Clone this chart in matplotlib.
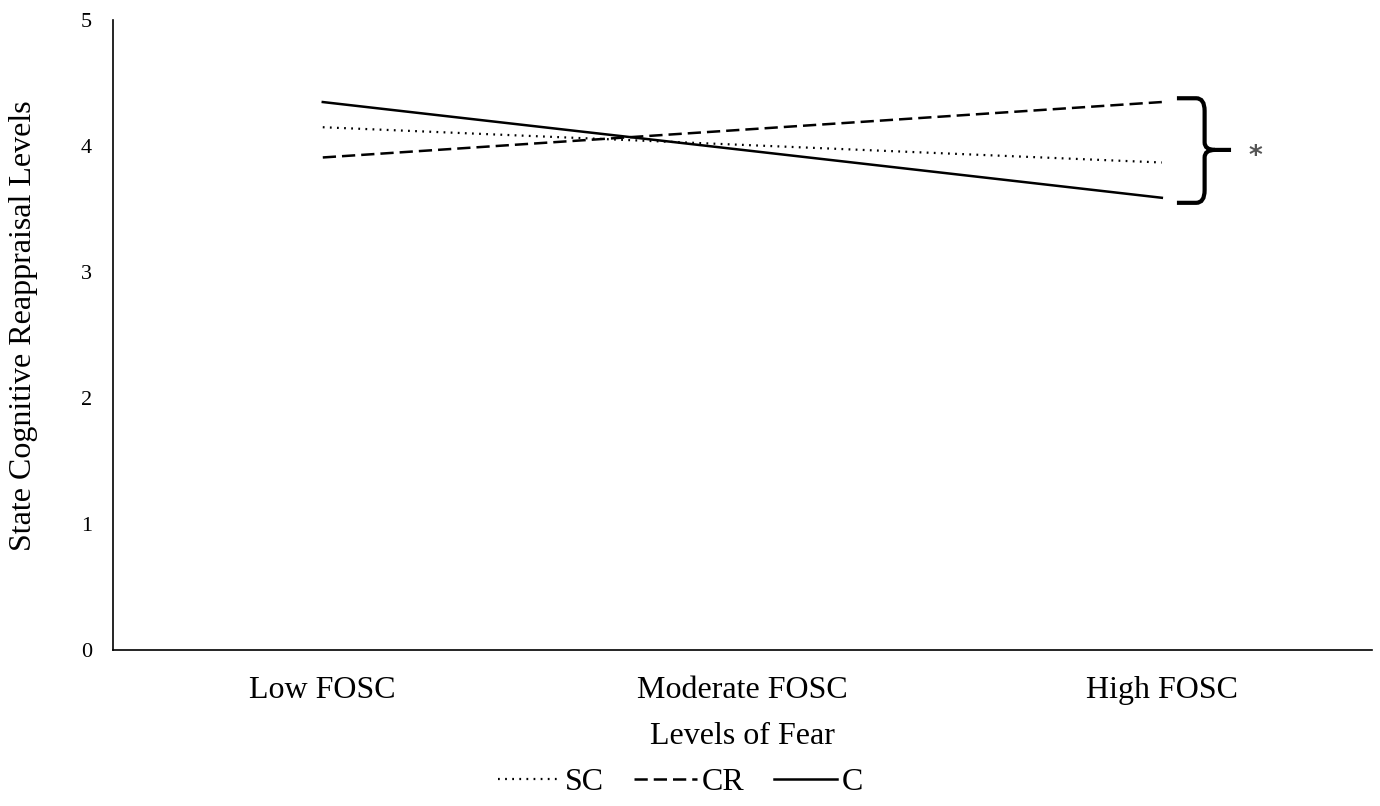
import matplotlib.pyplot as plt
from matplotlib.path import Path
from matplotlib.patches import PathPatch

categories = ['Low FOSC', 'Moderate FOSC', 'High FOSC']
sc_vals = [4.15, 4.01, 3.87]
cr_vals = [3.91, 4.13, 4.35]
c_vals = [4.35, 3.97, 3.59]

plt.rcParams['font.family'] = ['Liberation Serif', 'DejaVu Serif']

fig = plt.figure(figsize=(13.8, 8.06), dpi=100)
ax = fig.add_axes([0.0819, 0.1935, 0.912, 0.7815])

x = range(len(categories))
ax.plot(x, sc_vals, color='black', lw=1.6, linestyle=(0, (0.8, 2.4)), label='SC')
ax.plot(x, cr_vals, color='black', lw=1.8, linestyle=(0, (5.3, 2.4)), label='CR')
ax.plot(x, c_vals, color='black', lw=1.8, linestyle='-', label='C')

ax.set_xlim(-0.5, 2.5)
ax.set_ylim(0, 5)
ax.set_yticks(range(6))
ax.set_xticks(list(x))
ax.set_xticklabels(categories, fontsize=23)
ax.tick_params(axis='y', labelsize=16, length=0, pad=15)
ax.tick_params(axis='x', length=0, pad=18.4)
for s in ['top', 'right']:
    ax.spines[s].set_visible(False)
ax.spines['left'].set_linewidth(1.2)
ax.spines['bottom'].set_linewidth(1.2)

ax.set_xlabel('Levels of Fear', fontsize=23, labelpad=12.6)
ax.set_ylabel('State Cognitive Reappraisal Levels', fontsize=23, va='center')
ax.yaxis.set_label_coords(-0.071, 0.515)

# significance brace
top, bot, mid = 4.38, 3.55, 3.97
x0, xv, xt = 2.036, 2.102, 2.165
verts = [(x0, top), (xv - 0.02, top), (xv, top), (xv, top - 0.1),
         (xv, mid + 0.06), (xv, mid), (xv + 0.025, mid), (xt, mid),
         (xv + 0.025, mid), (xv, mid), (xv, mid - 0.06),
         (xv, bot + 0.1), (xv, bot), (xv - 0.02, bot), (x0, bot)]
codes = [Path.MOVETO, Path.LINETO, Path.CURVE3, Path.CURVE3,
         Path.LINETO, Path.CURVE3, Path.CURVE3, Path.LINETO,
         Path.MOVETO, Path.CURVE3, Path.CURVE3,
         Path.LINETO, Path.CURVE3, Path.CURVE3, Path.LINETO]
ax.add_patch(PathPatch(Path(verts, codes), facecolor='none', edgecolor='black',
                       lw=3.0, capstyle='butt', clip_on=False))
ax.text(2.222, 3.915, '*', fontsize=19, fontweight='bold', color='#555555',
        ha='center', va='center', family='DejaVu Sans')

fig.legend(loc='center', bbox_to_anchor=(0.493, 0.029), ncol=3, frameon=False,
           fontsize=23, handlelength=1.95, handletextpad=0.15, columnspacing=0.95)

fig.savefig('out.png', dpi=100)
